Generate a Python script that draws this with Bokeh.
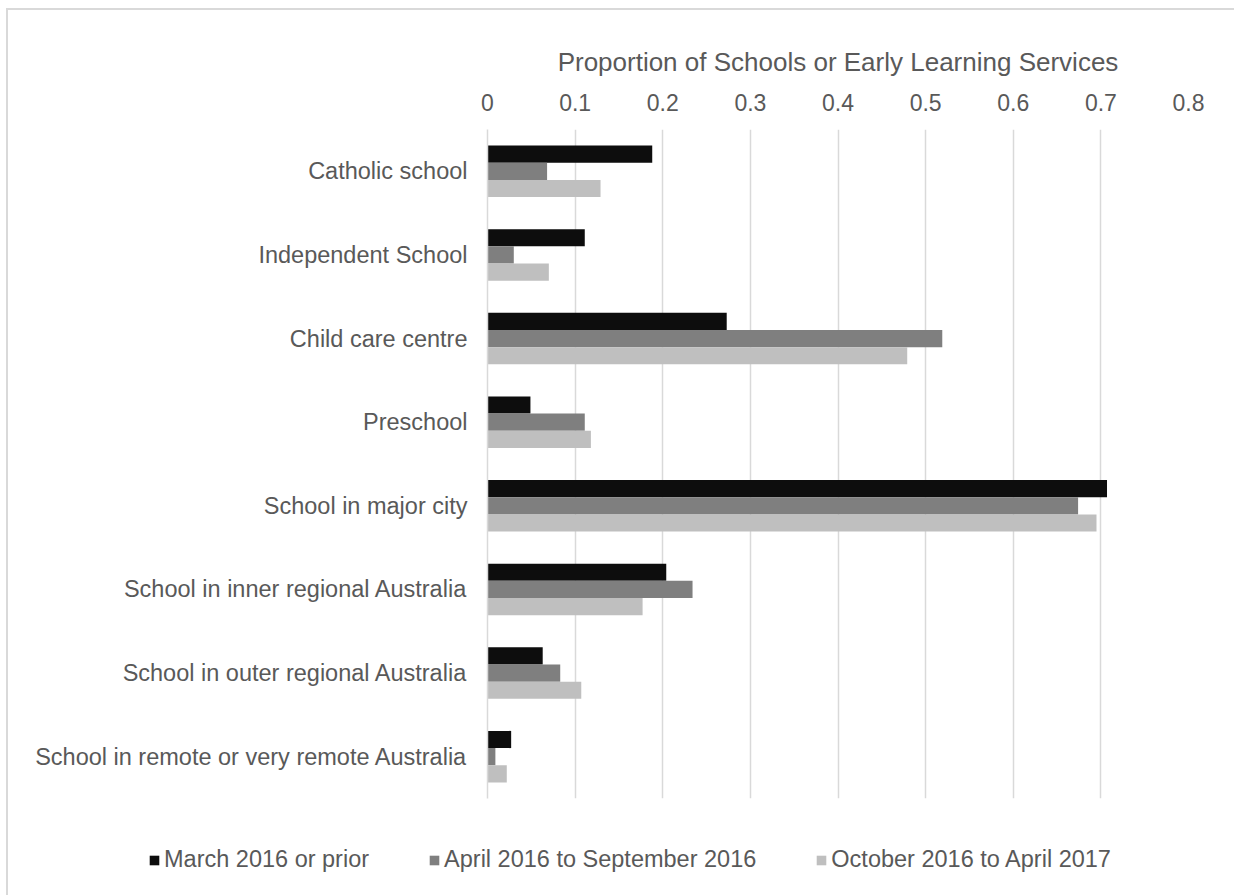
from bokeh.plotting import figure
from bokeh.layouts import column
from bokeh.models import FactorRange, Range1d, FixedTicker, Legend, LegendItem
from bokeh.transform import dodge
from bokeh.embed import file_html
from bokeh.resources import INLINE

categories = [
    "Catholic school",
    "Independent School",
    "Child care centre",
    "Preschool",
    "School in major city",
    "School in inner regional Australia",
    "School in outer regional Australia",
    "School in remote or very remote Australia",
]
series_names = ["March 2016 or prior", "April 2016 to September 2016", "October 2016 to April 2017"]
march_2016_or_prior = [0.188, 0.111, 0.273, 0.049, 0.707, 0.204, 0.063, 0.027]
apr_2016_to_sep_2016 = [0.068, 0.030, 0.519, 0.111, 0.674, 0.234, 0.083, 0.009]
oct_2016_to_apr_2017 = [0.129, 0.070, 0.479, 0.118, 0.695, 0.177, 0.107, 0.022]
tick_values = [0.0, 0.1, 0.2, 0.3, 0.4, 0.5, 0.6, 0.7, 0.8]
tick_labels = ["0", "0.1", "0.2", "0.3", "0.4", "0.5", "0.6", "0.7", "0.8"]
axis_title = "Proportion of Schools or Early Learning Services"

FONT = "Liberation Sans"
TXT = "#595959"
GRID = "#d9d9d9"
colors = ["#0d0d0d", "#7f7f7f", "#bfbfbf"]
keys = ["s0", "s1", "s2"]

source = dict(cat=categories, s0=march_2016_or_prior, s1=apr_2016_to_sep_2016, s2=oct_2016_to_apr_2017)

p = figure(
    width=1226, height=805,
    y_range=FactorRange(*list(reversed(categories)), range_padding=0),
    x_range=Range1d(0, 0.8),
    x_axis_location="above",
    output_backend="svg", toolbar_location=None,
    min_border_left=479, min_border_right=46, min_border_top=119, min_border_bottom=17,
    outline_line_color=None,
)
p.frame_align = False

bh = 0.2056
offsets = [bh, 0.0, -bh]
for i, key in enumerate(keys):
    p.hbar(y=dodge("cat", offsets[i], range=p.y_range), right=key, left=0, height=bh,
           source=source, fill_color=colors[i], line_color=None)

# x axis (top)
xa = p.xaxis[0]
xa.ticker = FixedTicker(ticks=tick_values)
xa.major_label_overrides = {v: l for v, l in zip(tick_values, tick_labels)}
xa.axis_line_color = None
xa.major_tick_line_color = None
xa.minor_tick_line_color = None
xa.major_tick_out = 0
xa.major_tick_in = 0
xa.major_label_standoff = 19
xa.major_label_text_font = FONT
xa.major_label_text_font_size = "23px"
xa.major_label_text_color = TXT
xa.axis_label = axis_title
xa.axis_label_text_font = FONT
xa.axis_label_text_font_size = "26px"
xa.axis_label_text_font_style = "normal"
xa.axis_label_text_color = TXT
xa.axis_label_standoff = 14

# y axis
ya = p.yaxis[0]
ya.axis_line_color = GRID
ya.axis_line_width = 1.5
ya.major_tick_line_color = None
ya.minor_tick_line_color = None
ya.major_tick_out = 0
ya.major_tick_in = 0
ya.major_label_standoff = 20
ya.major_label_text_font = FONT
ya.major_label_text_font_size = "23.5px"
ya.major_label_text_color = TXT

p.xgrid.ticker = FixedTicker(ticks=tick_values)
p.xgrid.grid_line_color = GRID
p.xgrid.grid_line_width = 1.5
p.ygrid.grid_line_color = None

# legend strip below
pl = figure(
    width=1226, height=80,
    x_range=Range1d(0, 1), y_range=Range1d(0, 1),
    x_axis_type=None, y_axis_type=None,
    output_backend="svg", toolbar_location=None,
    min_border_left=0, min_border_right=0, min_border_top=0, min_border_bottom=0,
    outline_line_color=None,
)
pl.frame_align = False
leg_renderers = []
for i, key in enumerate(keys):
    # zero-size swatch renderers (only their colours are used by the legend)
    r = pl.hbar(y=key, right=0, left=0, height=0, source=source,
                fill_color=colors[i], line_color=None)
    leg_renderers.append(r)

legend = Legend(
    items=[LegendItem(label=series_names[i], renderers=[leg_renderers[i]]) for i in range(3)],
    orientation="horizontal",
    location=(140, 22),
    glyph_width=12, glyph_height=12, label_standoff=4, spacing=59,
    padding=0, margin=0,
    border_line_color=None, background_fill_alpha=0,
    label_text_font=FONT, label_text_font_size="23.5px", label_text_color=TXT,
)
pl.add_layout(legend, "center")

layout = column(p, pl, spacing=0)
layout.styles = {"margin-left": "6px", "margin-top": "8px",
                 "border-left": f"2px solid {GRID}", "border-top": f"2px solid {GRID}"}

open("out.html", "w").write(file_html(layout, INLINE))
